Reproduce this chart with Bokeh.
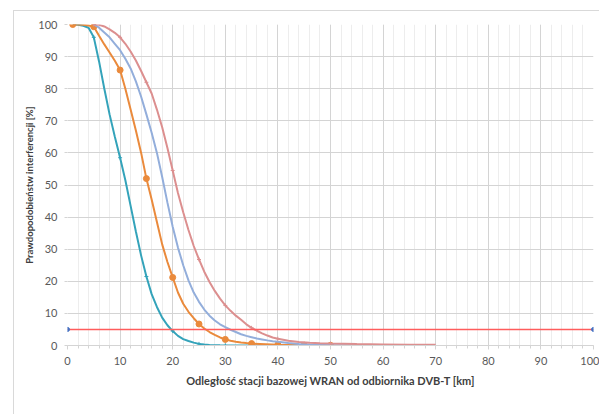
from bokeh.plotting import figure
from bokeh.models import Range1d, SingleIntervalTicker, Legend, LegendItem
from bokeh.embed import file_html
from bokeh.resources import INLINE

# ---- data ----
x_25 = [1, 2, 3, 4, 5, 6, 7, 8, 9, 10, 11, 12, 13, 14, 15, 16, 17, 18, 19, 20,
        21, 22, 23, 24, 25, 26, 27, 28, 29, 30, 35, 40, 45]
y_25 = [100, 99.9, 99.6, 99.0, 96.0, 88.5, 80.0, 72.0, 65.0, 58.5, 51.5, 43.5,
        35.5, 28.0, 21.5, 16.0, 12.0, 8.7, 6.3, 4.5, 3.0, 2.0, 1.4, 0.9, 0.5,
        0.3, 0.15, 0.1, 0.05, 0.03, 0.01, 0.0, 0.0]

x_50 = [1, 2, 3, 4, 5, 6, 7, 8, 9, 10, 11, 12, 13, 14, 15, 16, 17, 18, 19, 20,
        21, 22, 23, 24, 25, 26, 27, 28, 29, 30, 31, 32, 33, 34, 35, 40, 45, 50]
y_50 = [100, 100, 99.9, 99.7, 99.3, 96.5, 93.8, 91.3, 88.7, 85.8, 80.0, 73.5,
        67.0, 60.0, 52.0, 45.5, 38.5, 31.5, 26.0, 21.2, 16.5, 13.0, 10.5, 8.5,
        6.7, 5.3, 4.2, 3.3, 2.5, 1.9, 1.5, 1.2, 0.95, 0.75, 0.6, 0.25, 0.1, 0.05]
mark_x_50 = [1, 5, 10, 15, 20, 25, 30, 35, 40, 45, 50]
mark_y_50 = [100, 99.3, 85.8, 52.0, 21.2, 6.7, 1.9, 0.6, 0.25, 0.1, 0.05]

x_75 = [5, 6, 7, 8, 9, 10, 11, 12, 13, 14, 15, 16, 17, 18, 19, 20, 21, 22, 23,
        24, 25, 26, 27, 28, 29, 30, 31, 32, 33, 34, 35, 36, 37, 38, 39, 40, 42,
        44, 46, 48, 50, 55]
y_75 = [100, 99.0, 97.5, 96.0, 94.0, 92.0, 89.3, 86.3, 82.3, 77.5, 72.0, 66.3,
        60.0, 52.5, 44.5, 37.0, 30.5, 25.0, 20.3, 16.5, 13.6, 11.2, 9.3, 7.8,
        6.6, 5.7, 4.9, 4.2, 3.5, 3.0, 2.6, 2.2, 1.9, 1.6, 1.35, 1.15, 0.8, 0.5,
        0.35, 0.25, 0.15, 0.05]

x_100 = [5, 6, 7, 8, 9, 10, 11, 12, 13, 14, 15, 16, 17, 18, 19, 20, 21, 22, 23,
         24, 25, 26, 27, 28, 29, 30, 31, 32, 33, 34, 35, 36, 37, 38, 39, 40, 42,
         44, 46, 48, 50, 55, 60, 65, 70]
y_100 = [100, 99.9, 99.4, 98.5, 97.4, 96.0, 94.0, 91.6, 88.8, 85.5, 82.0, 78.5,
         73.5, 68.0, 61.5, 54.5, 47.5, 41.5, 36.0, 31.0, 26.8, 23.0, 19.8, 17.0,
         14.6, 12.5, 10.8, 9.3, 8.0, 6.6, 5.5, 4.6, 3.8, 3.1, 2.5, 2.1, 1.5, 1.1,
         0.85, 0.7, 0.6, 0.45, 0.35, 0.25, 0.2]

thr_x = [0, 100]
thr_y = [5, 5]

labels = ["hant=25m", "hant=50m", "hant=75m", "hant=100m"]
x_title = "Odległość stacji bazowej WRAN od odbiornika DVB-T [km]"
y_title = "Prawdopodobieństw interferencji [%]"

TEAL = "#34a3ba"
ORANGE = "#ea8a3c"
BLUE = "#93aedb"
PINK = "#dc8f8f"
RED = "#ff5c5c"
FONT = "Lato"

p = figure(width=599, height=414, frame_width=526, frame_height=321,
           x_range=Range1d(0, 100), y_range=Range1d(0, 100),
           output_backend="svg", toolbar_location=None, min_border_left=67,
           min_border_top=24, min_border_right=6, min_border_bottom=0)
p.outline_line_color = None
p.background_fill_color = "white"
p.border_fill_alpha = 0
p.styles = {
    "background": ("linear-gradient(#d9d9d9, #d9d9d9) 13px 10px / 1px 100% no-repeat, "
                   "linear-gradient(#d9d9d9, #d9d9d9) 13px 10px / 100% 1px no-repeat, "
                   "white"),
}

xt = SingleIntervalTicker(interval=10, num_minor_ticks=5)
yt = SingleIntervalTicker(interval=10, num_minor_ticks=0)
p.xaxis.ticker = xt
p.yaxis.ticker = yt
p.xgrid.ticker = xt
p.ygrid.ticker = yt
p.xgrid.grid_line_color = "#d4d4d4"
p.xgrid.minor_grid_line_color = "#ededed"
p.ygrid.grid_line_color = "#d4d4d4"

for ax in (p.xaxis[0], p.yaxis[0]):
    ax.major_label_text_font = FONT
    ax.major_label_text_font_size = "11px"
    ax.major_label_text_color = "#595959"
    ax.axis_label_text_font = FONT
    ax.axis_label_text_font_style = "bold"
    ax.axis_label_text_color = "#404040"

xa = p.xaxis[0]
xa.axis_label = x_title
xa.axis_label_text_font_size = "11px"
xa.axis_line_color = "#d4d4d4"
xa.major_tick_line_color = "#d4d4d4"
xa.minor_tick_line_color = "#d4d4d4"
xa.major_tick_out = 4
xa.major_tick_in = 0
xa.minor_tick_out = 3
xa.minor_tick_in = 0
xa.major_label_standoff = 7
xa.axis_label_standoff = 6

ya = p.yaxis[0]
ya.axis_label = y_title
ya.axis_label_text_font_size = "9.5px"
ya.axis_line_color = None
ya.major_tick_line_color = "#d4d4d4"
ya.major_tick_out = 3
ya.major_tick_in = 0
ya.minor_tick_line_color = None
ya.major_label_standoff = 7
ya.axis_label_standoff = 0

r25 = p.line(x_25, y_25, line_color=TEAL, line_width=2)
p.scatter(x_25[4::5], y_25[4::5], marker="cross", size=4, line_color=TEAL)
r50 = p.line(x_50, y_50, line_color=ORANGE, line_width=2)
m50 = p.scatter(mark_x_50, mark_y_50, marker="circle", size=6,
                fill_color=ORANGE, line_color=ORANGE)
r75 = p.line(x_75, y_75, line_color=BLUE, line_width=2)
r100 = p.line(x_100, y_100, line_color=PINK, line_width=2)
p.scatter(x_100[::5], y_100[::5], marker="cross", size=4, line_color=PINK)
p.line(thr_x, thr_y, line_color=RED, line_width=1.5)
p.scatter(thr_x, thr_y, marker="circle", size=4, fill_color="#4472c4",
          line_color="#4472c4")

legend = Legend(items=[
    LegendItem(label=labels[0], renderers=[r25]),
    LegendItem(label=labels[1], renderers=[r50, m50]),
    LegendItem(label=labels[2], renderers=[r75]),
    LegendItem(label=labels[3], renderers=[r100]),
], orientation="horizontal", location="center")
legend.label_text_font = FONT
legend.label_text_font_size = "10.5px"
legend.label_text_color = "#595959"
legend.glyph_width = 17
legend.glyph_height = 10
legend.label_height = 10
legend.label_standoff = 2
legend.spacing = 12
legend.padding = 0
legend.margin = 0
legend.border_line_color = None
legend.background_fill_alpha = 0
p.add_layout(legend, "below")

open("out.html", "w").write(file_html(p, INLINE))
